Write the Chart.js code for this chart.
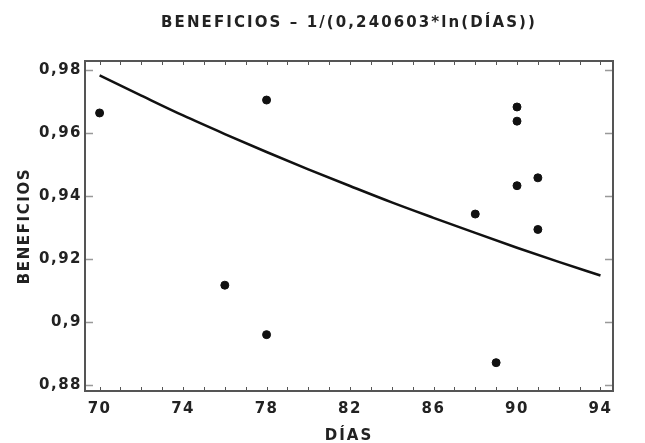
<!DOCTYPE html>
<html>
<head>
<meta charset="utf-8">
<script src="https://cdn.jsdelivr.net/npm/chart.js@4/dist/chart.umd.min.js"></script>
<style>
  html, body { margin: 0; padding: 0; background: #fff; }
  #wrap { width: 645px; height: 443px; position: relative; }
</style>
</head>
<body>
<div id="wrap"><canvas id="c"></canvas></div>
<script>
// ---- data ----
const dias       = [70, 76, 78, 78, 88, 89, 90, 90, 90, 91, 91];
const beneficios = [0.9664, 0.9117, 0.9705, 0.8960, 0.9343, 0.8871, 0.9683, 0.9638, 0.9433, 0.9458, 0.9294];
const curveDias  = [70, 72, 74, 76, 78, 80, 82, 84, 86, 88, 90, 92, 94];
const curveVals  = [0.9783, 0.9719, 0.9656, 0.9597, 0.9540, 0.9485, 0.9432, 0.9380, 0.9331, 0.9283, 0.9236, 0.9191, 0.9148];
const xTicks     = [70, 74, 78, 82, 86, 90, 94];
const xMinor     = [70,71,72,73,74,75,76,77,78,79,80,81,82,83,84,85,86,87,88,89,90,91,92,93,94];
const yTicks     = [0.88, 0.90, 0.92, 0.94, 0.96, 0.98];
const titleText  = 'BENEFICIOS – 1/(0,240603*ln(DÍAS))';
const xTitle     = 'DÍAS';
const yTitle     = 'BENEFICIOS';

const FONT = '"DejaVu Sans", Verdana, sans-serif';

function spaced(obj, method, sp, shiftFn) {
  if (!obj || obj['__w_' + method]) return;
  const orig = obj[method];
  obj[method] = function (...args) {
    const ctx = this.ctx;
    ctx.save();
    ctx.letterSpacing = sp + 'px';
    if (shiftFn) ctx.translate(shiftFn(), 0);
    const r = orig.apply(this, args);
    ctx.restore();
    return r;
  };
  obj['__w_' + method] = true;
}

const spacingPlugin = {
  id: 'spacing',
  afterLayout(chart) {
    const tb = chart.titleBlock;
    spaced(tb, 'draw', 2.1, () => {
      const a = chart.chartArea;
      return (a.left + a.right) / 2 - (tb.left + tb.right) / 2;
    });
    spaced(chart.scales.x, 'drawLabels', 1.5);
    spaced(chart.scales.y, 'drawLabels', 1.5);
    spaced(chart.scales.x, 'drawTitle', 2);
    spaced(chart.scales.y, 'drawTitle', 1.6);
  }
};

const framePlugin = {
  id: 'frame',
  beforeDatasetsDraw(chart) {
    const {ctx, chartArea: a, scales: {x, y}} = chart;
    ctx.save();
    ctx.strokeStyle = '#555';
    ctx.lineWidth = 1;
    xMinor.forEach(v => {
      const px = Math.round(x.getPixelForValue(v)) + 0.5;
      ctx.beginPath();
      ctx.moveTo(px, a.bottom); ctx.lineTo(px, a.bottom - 4);
      ctx.moveTo(px, a.top); ctx.lineTo(px, a.top + 4);
      ctx.stroke();
    });
    ctx.strokeStyle = '#999';
    ctx.lineWidth = 1.5;
    yTicks.forEach(v => {
      const py = Math.round(y.getPixelForValue(v)) + 0.5;
      ctx.beginPath();
      ctx.moveTo(a.left, py); ctx.lineTo(a.left + 8, py);
      ctx.moveTo(a.right, py); ctx.lineTo(a.right - 8, py);
      ctx.stroke();
    });
    ctx.strokeStyle = '#555';
    ctx.lineWidth = 2;
    ctx.strokeRect(a.left, a.top, a.right - a.left, a.bottom - a.top);
    ctx.restore();
  }
};

new Chart(document.getElementById('c'), {
  type: 'scatter',
  data: {
    datasets: [
      {
        label: 'modelo',
        type: 'line',
        data: curveDias.map((d, i) => ({x: d, y: curveVals[i]})),
        borderColor: '#111',
        borderWidth: 2.5,
        pointRadius: 0,
        fill: false,
        cubicInterpolationMode: 'monotone',
        order: 2
      },
      {
        label: 'datos',
        data: dias.map((d, i) => ({x: d, y: beneficios[i]})),
        backgroundColor: '#111',
        borderColor: '#111',
        pointRadius: 4,
        pointHoverRadius: 4,
        order: 1
      }
    ]
  },
  options: {
    responsive: true,
    maintainAspectRatio: false,
    animation: false,
    events: [],
    layout: { padding: { left: 0, right: 32, top: 0, bottom: 0 } },
    plugins: {
      legend: { display: false },
      tooltip: { enabled: false },
      title: {
        display: true,
        text: titleText,
        color: '#222',
        font: { family: FONT, size: 15, weight: 'bold', lineHeight: 1.2 },
        padding: { top: 14, bottom: 29 }
      }
    },
    scales: {
      x: {
        type: 'linear',
        min: 69.3,
        max: 94.6,
        afterBuildTicks: s => { s.ticks = xTicks.map(v => ({value: v})); },
        afterFit: s => { s.height = 52; },
        grid: { display: false, drawTicks: false },
        border: { display: false },
        ticks: {
          color: '#222',
          padding: 9,
          maxRotation: 0,
          autoSkip: false,
          font: { family: FONT, size: 15, weight: 'bold' },
          callback: v => String(v)
        },
        title: {
          display: true,
          text: xTitle,
          color: '#222',
          font: { family: FONT, size: 15, weight: 'bold', lineHeight: 1.2 },
          padding: { top: 0, bottom: -2 }
        }
      },
      y: {
        type: 'linear',
        min: 0.8781,
        max: 0.9829,
        afterBuildTicks: s => { s.ticks = yTicks.map(v => ({value: v})); },
        afterFit: s => { s.width = 85; },
        grid: { display: false, drawTicks: false },
        border: { display: false },
        ticks: {
          color: '#222',
          padding: 3,
          autoSkip: false,
          font: { family: FONT, size: 15, weight: 'bold' },
          callback: v => String(+v.toFixed(2)).replace('.', ',')
        },
        title: {
          display: true,
          text: yTitle,
          color: '#222',
          font: { family: FONT, size: 15, weight: 'bold', lineHeight: 1.2 },
          padding: { top: 16, bottom: 0 }
        }
      }
    }
  },
  plugins: [spacingPlugin, framePlugin]
});
</script>
</body>
</html>
